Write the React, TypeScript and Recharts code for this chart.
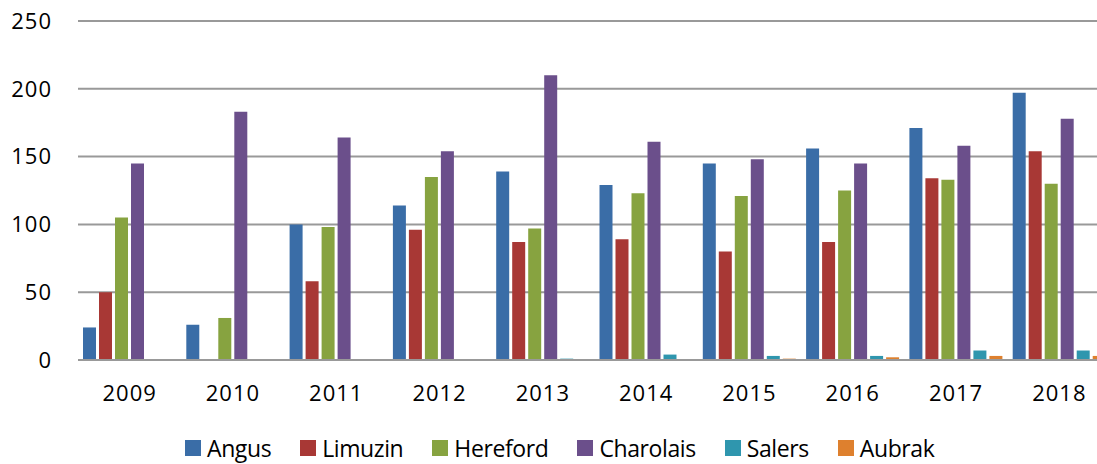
import { BarChart, Bar, XAxis, YAxis, CartesianGrid, Legend } from 'recharts';

const years = ['2009', '2010', '2011', '2012', '2013', '2014', '2015', '2016', '2017', '2018'];

const angus = [24, 26, 100, 114, 139, 129, 145, 156, 171, 197];
const limuzin = [50, 0, 58, 96, 87, 89, 80, 87, 134, 154];
const hereford = [105, 31, 98, 135, 97, 123, 121, 125, 133, 130];
const charolais = [145, 183, 164, 154, 210, 161, 148, 145, 158, 178];
const salers = [0, 0, 0, 0, 1, 4, 3, 3, 7, 7];
const aubrak = [0, 0, 0, 0, 0, 0, 1, 2, 3, 3];

const yTicks = [0, 50, 100, 150, 200, 250];

const series = [
  { key: 'Angus', values: angus, color: '#3A6DA7' },
  { key: 'Limuzin', values: limuzin, color: '#A83835' },
  { key: 'Hereford', values: hereford, color: '#87A340' },
  { key: 'Charolais', values: charolais, color: '#6B4F8B' },
  { key: 'Salers', values: salers, color: '#2F96AE' },
  { key: 'Aubrak', values: aubrak, color: '#DE802E' },
];

const data = years.map((year, i) => {
  const row: Record<string, string | number> = { year };
  series.forEach((s) => {
    row[s.key] = s.values[i];
  });
  return row;
});

const FONT = '"Open Sans", sans-serif';

// legend sits low like the original, but keeps the descenders inside the frame
const LegendContent = () => (
  <div style={{ display: 'flex', alignItems: 'center', fontFamily: FONT, fontSize: 23, letterSpacing: -0.4, color: '#000' }}>
    {series.map((s) => (
      <div key={s.key} style={{ display: 'flex', alignItems: 'center', marginRight: 29, whiteSpace: 'nowrap' }}>
        <span style={{ width: 16, height: 16, background: s.color, marginRight: 6, display: 'inline-block' }} />
        <span style={{ lineHeight: '24px' }}>{s.key}</span>
      </div>
    ))}
  </div>
);

export default function App() {
  return (
    <div style={{ position: 'absolute', left: 0, top: 0, width: 1097, height: 464, overflow: 'hidden', background: '#fff' }}>
      <BarChart
        width={1120}
        height={464}
        data={data}
        margin={{ top: 21, right: 9, left: 0, bottom: 74 }}
        barSize={13}
        barGap={3}
      >
        <CartesianGrid vertical={false} stroke="#999" strokeWidth={2} />
        <XAxis
          dataKey="year"
          height={30}
          axisLine={{ stroke: '#999', strokeWidth: 2 }}
          tickLine={false}
          tickSize={0}
          tickMargin={25}
          tick={{ fill: '#000', fontSize: 22, fontFamily: FONT, letterSpacing: 1 }}
        />
        <YAxis
          width={78}
          domain={[0, 250]}
          ticks={yTicks}
          axisLine={false}
          tickLine={false}
          tickSize={0}
          tickMargin={26}
          tick={{ fill: '#000', fontSize: 22, fontFamily: FONT, letterSpacing: 1 }}
        />
        <Legend
          layout="horizontal"
          verticalAlign="middle"
          align="center"
          content={<LegendContent />}
          wrapperStyle={{ top: 436, left: 185, width: 'auto', height: 'auto' }}
        />
        {series.map((s) => (
          <Bar key={s.key} dataKey={s.key} fill={s.color} isAnimationActive={false} />
        ))}
      </BarChart>
    </div>
  );
}
